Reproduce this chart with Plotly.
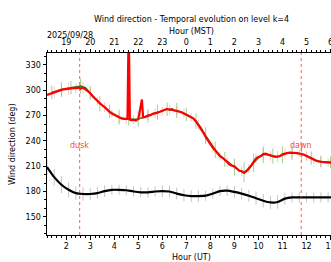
import plotly.graph_objects as go

# ---------------- data ----------------
# Red series (main wind direction, level k=4), UT hours
red_ut = [1.2, 1.3, 1.4, 1.5, 1.6, 1.7, 1.8, 1.9, 2.0, 2.1, 2.2, 2.3, 2.4, 2.5, 2.6, 2.7, 2.8, 2.9,
          3.0, 3.1, 3.2, 3.3, 3.4, 3.5, 3.6, 3.7, 3.8, 3.9, 4.0, 4.1, 4.2, 4.3, 4.4, 4.5, 4.55, 4.6,
          4.65, 4.7, 4.8, 4.9, 5.0, 5.1, 5.15, 5.2, 5.3, 5.4, 5.5, 5.6, 5.7, 5.8, 5.9, 6.0, 6.1,
          6.2, 6.3, 6.4, 6.5, 6.6, 6.7, 6.8, 6.9, 7.0, 7.1, 7.2, 7.3, 7.4, 7.5, 7.6, 7.7, 7.8,
          7.9, 8.0, 8.1, 8.2, 8.3, 8.4, 8.5, 8.6, 8.7, 8.8, 8.9, 9.0, 9.1, 9.2, 9.3, 9.4, 9.5,
          9.6, 9.7, 9.8, 9.9, 10.0, 10.1, 10.2, 10.3, 10.4, 10.5, 10.6, 10.7, 10.8, 10.9, 11.0,
          11.1, 11.2, 11.3, 11.4, 11.5, 11.6, 11.7, 11.8, 11.9, 12.0, 12.1, 12.2, 12.3, 12.4,
          12.5, 12.6, 12.7, 12.8, 12.9, 13.0, 13.1, 13.2]
red_dir = [294.5, 295.5, 297, 298, 299, 299.5, 300.5, 301, 301.5, 302, 302, 302.5, 302.5, 303, 302,
           303, 301, 299, 296.5, 293, 290, 287, 284.5, 282, 280, 277, 274.5, 272.5, 271, 269,
           267.5, 266.5, 266, 265.5, 266, 380, 265, 264.5, 265, 264, 266, 281, 289, 268, 268.5,
           270, 270.5, 272, 272.5, 273.5, 274.5, 275.5, 277, 278, 277, 277.5, 276, 275.5, 275,
           274, 272.5, 271, 269.5, 268, 266.5, 263, 259, 255, 250, 245, 240, 236, 232, 228.5,
           225, 222, 220, 218, 215, 212, 210.5, 210, 207, 204.5, 204, 202, 204, 207, 211, 215,
           219, 221, 222, 224.5, 225, 223.5, 222.5, 221.5, 221, 221.5, 222, 224, 225, 225.5, 226,
           226, 225.5, 225.5, 225, 224.5, 223.5, 222, 220.5, 219, 217.5, 216.5, 215.5, 215, 215,
           214.5, 214.5, 214, 214, 213.5]

# Pink error bars on the red series
pink_ut = [1.5, 1.8, 2.1, 2.4, 2.7, 3.0, 3.3, 3.6, 3.9, 4.2, 4.5, 4.8, 5.1, 5.4, 5.7, 6.0, 6.3,
           6.6, 6.9, 7.2, 7.5, 7.8, 8.1, 8.4, 8.7, 9.0, 9.3, 9.6, 9.9, 10.2, 10.5, 10.8, 11.1,
           11.4, 11.7, 12.0, 12.3, 12.6, 12.9]
pink_dir = [298, 300.5, 302, 302.5, 303, 296.5, 287, 280, 272.5, 267.5, 265.5, 265, 272, 270,
            272.5, 275.5, 277, 275.5, 272.5, 268, 259, 245, 232, 222, 215, 210, 204, 207, 219,
            224.5, 222.5, 221.5, 225, 226, 225, 222, 217.5, 215, 214.5]
pink_err = [7, 6, 7, 6, 7, 6, 5, 6, 5, 6, 5, 5, 6, 5, 6, 5, 6, 5, 6, 5, 6, 5, 6, 5, 6, 5, 6,
            5, 6, 7, 6, 7, 6, 6, 5, 6, 5, 6, 5]

# Green series (second estimate) with error bars
green_ut = [1.4, 1.6, 1.8, 2.0, 2.2, 2.4, 2.6, 2.8, 3.0, 3.2, 3.4, 3.6, 3.8, 4.0, 4.2, 4.4, 4.6,
            4.8, 5.0, 5.2, 5.4, 5.6, 5.8, 6.0, 6.2, 6.4, 6.6, 6.8, 7.0, 7.2, 7.4, 7.6, 7.8, 8.0,
            8.2, 8.4, 8.6, 8.8, 9.0, 9.2, 9.4, 9.6, 9.8, 10.0, 10.2, 10.4, 10.6, 10.8, 11.0,
            11.2, 11.4, 11.6, 11.8, 12.0, 12.2, 12.4, 12.6, 12.8, 13.0]
green_dir = [297.5, 299.5, 301, 302, 303, 304, 305, 303, 297, 290.5, 284, 280, 275, 271.5, 268,
             266.5, 266, 265.5, 266, 267.5, 269.5, 272, 274, 276, 277.5, 276.5, 276, 274, 271.5,
             268.5, 263.5, 256, 246, 237, 229.5, 222.5, 218, 212.5, 209, 205, 203, 206.5, 214,
             220, 223.5, 224, 222, 221, 223.5, 225.5, 226, 225.5, 224.5, 222.5, 219.5, 217, 215.5,
             215, 214.5]
green_err = [8, 0, 9, 0, 8, 0, 9, 0, 8, 0, 9, 0, 8, 0, 9, 0, 8, 0, 9, 0, 8, 0, 9, 0, 8, 0, 9,
             0, 8, 0, 9, 0, 10, 0, 10, 0, 9, 0, 10, 0, 12, 0, 11, 0, 10, 0, 9, 0, 10, 0, 9, 0, 8,
             0, 8, 0, 7, 0, 7]

# Black series (lower level) with grey error bars
black_ut = [1.2, 1.5, 1.8, 2.1, 2.4, 2.7, 3.0, 3.3, 3.6, 3.9, 4.2, 4.5, 4.8, 5.1, 5.4, 5.7, 6.0,
            6.3, 6.6, 6.9, 7.2, 7.5, 7.8, 8.1, 8.4, 8.7, 9.0, 9.3, 9.6, 9.9, 10.2, 10.5, 10.8,
            11.1, 11.4, 11.7, 12.0, 12.3, 12.6, 12.9, 13.2]
black_dir = [209, 197, 188, 182, 178, 177, 177, 178, 180.5, 182, 182, 181.5, 180, 179, 179, 180,
             180.5, 180, 177.5, 175.5, 174.5, 174.5, 175, 177.5, 180.5, 181, 179.5, 177.5, 175,
             172, 169, 167, 167.5, 171.5, 173, 173, 173, 173, 173, 173, 173]
black_err = [9, 10, 10, 9, 8, 8, 7, 7, 7, 6, 6, 6, 6, 6, 6, 6, 7, 7, 7, 7, 7, 7, 6, 6, 6, 6, 7,
             7, 7, 8, 8, 8, 8, 7, 6, 6, 6, 6, 6, 6, 6]

# Events and axis labels
dusk_ut = 2.56
dawn_ut = 11.78
event_label_dir = 235
ut_ticks = [2, 3, 4, 5, 6, 7, 8, 9, 10, 11, 12, 13]
mst_ticktext = ["19", "20", "21", "22", "23", "0", "1", "2", "3", "4", "5", "6"]
x_range = [1.2, 13.02]
y_range = [128.4, 344.2]

FONT = "DejaVu Sans"

fig = go.Figure()

fig.add_trace(go.Scatter(
    x=black_ut, y=black_dir, mode="lines",
    line=dict(color="black", width=2.2, shape="spline", smoothing=0.6),
    error_y=dict(type="data", array=black_err, color="rgba(150,150,150,0.55)", thickness=1, width=0),
    showlegend=False, hoverinfo="skip"))

fig.add_trace(go.Scatter(
    x=green_ut, y=green_dir, mode="lines",
    line=dict(color="#1f7a1f", width=1.6),
    error_y=dict(type="data", array=green_err, color="rgba(90,170,60,0.55)", thickness=1, width=0),
    showlegend=False, hoverinfo="skip"))

fig.add_trace(go.Scatter(
    x=pink_ut, y=pink_dir, mode="none",
    error_y=dict(type="data", array=pink_err, color="rgba(255,120,120,0.45)", thickness=1, width=0),
    showlegend=False, hoverinfo="skip"))

fig.add_trace(go.Scatter(
    x=red_ut, y=red_dir, mode="lines",
    line=dict(color="#ff0000", width=2.2),
    showlegend=False, hoverinfo="skip"))

# invisible trace to anchor the top (MST) axis
fig.add_trace(go.Scatter(x=ut_ticks, y=[None] * len(ut_ticks), xaxis="x2", mode="lines",
                         showlegend=False, hoverinfo="skip"))

for xv in (dusk_ut, dawn_ut):
    fig.add_shape(type="line", x0=xv, x1=xv, y0=0, y1=1, xref="x", yref="paper",
                  line=dict(color="rgba(255,40,40,0.75)", width=1, dash="dot"))

fig.add_annotation(x=dusk_ut, y=event_label_dir, text="dusk", showarrow=False,
                   font=dict(family=FONT, size=8, color="rgba(255,30,30,0.9)"))
fig.add_annotation(x=dawn_ut, y=event_label_dir, text="dawn", showarrow=False,
                   font=dict(family=FONT, size=8, color="rgba(255,30,30,0.9)"))

# titles
fig.add_annotation(x=0.509, y=1.1835, xref="paper", yref="paper", showarrow=False,
                   text="Wind direction - Temporal evolution on level k=4",
                   font=dict(family=FONT, size=8, color="black"), xanchor="center", yanchor="middle")
fig.add_annotation(x=0.509, y=1.1154, xref="paper", yref="paper", showarrow=False,
                   text="Hour (MST)", font=dict(family=FONT, size=8, color="black"),
                   xanchor="center", yanchor="middle")
fig.add_annotation(x=0.082, y=1.097, xref="paper", yref="paper", showarrow=False,
                   text="2025/09/28", font=dict(family=FONT, size=8, color="black"),
                   xanchor="center", yanchor="middle")
fig.add_annotation(x=0.509, y=-0.126, xref="paper", yref="paper", showarrow=False,
                   text="Hour (UT)", font=dict(family=FONT, size=8, color="black"),
                   xanchor="center", yanchor="middle")
fig.add_annotation(x=-0.1232, y=0.5, xref="paper", yref="paper", showarrow=False,
                   text="Wind direction (deg)", textangle=-90,
                   font=dict(family=FONT, size=8, color="black"), xanchor="center", yanchor="middle")

axis_common = dict(showgrid=False, zeroline=False, showline=True, linecolor="black", linewidth=1,
                   ticks="outside", ticklen=3.5, tickwidth=1, tickcolor="black", automargin=False,
                   tickfont=dict(family=FONT, size=8, color="black"))

fig.update_layout(
    width=331, height=262,
    margin=dict(l=47, r=0, t=53, b=27, autoexpand=False),
    paper_bgcolor="white", plot_bgcolor="white",
    xaxis=dict(range=x_range, tickmode="array", tickvals=ut_ticks, ticklabeloverflow="allow",
               minor=dict(tickmode="linear", tick0=0, dtick=0.2, ticks="outside", ticklen=2,
                          tickcolor="black", tickwidth=1),
               **axis_common),
    xaxis2=dict(range=x_range, overlaying="x", side="top", tickmode="array", tickvals=ut_ticks,
                ticktext=mst_ticktext, matches="x", ticklabeloverflow="allow",
                minor=dict(tickmode="linear", tick0=0, dtick=0.2, ticks="outside", ticklen=2,
                           tickcolor="black", tickwidth=1),
                **axis_common),
    yaxis=dict(range=y_range, tickmode="linear", tick0=0, dtick=30,
               minor=dict(tickmode="linear", tick0=0, dtick=10, ticks="outside", ticklen=2,
                          tickcolor="black", tickwidth=1),
               **axis_common),
)

fig.write_html("out.html", config={"displayModeBar": False},
               post_script="document.body.style.margin='0';document.body.style.overflow='hidden';")
